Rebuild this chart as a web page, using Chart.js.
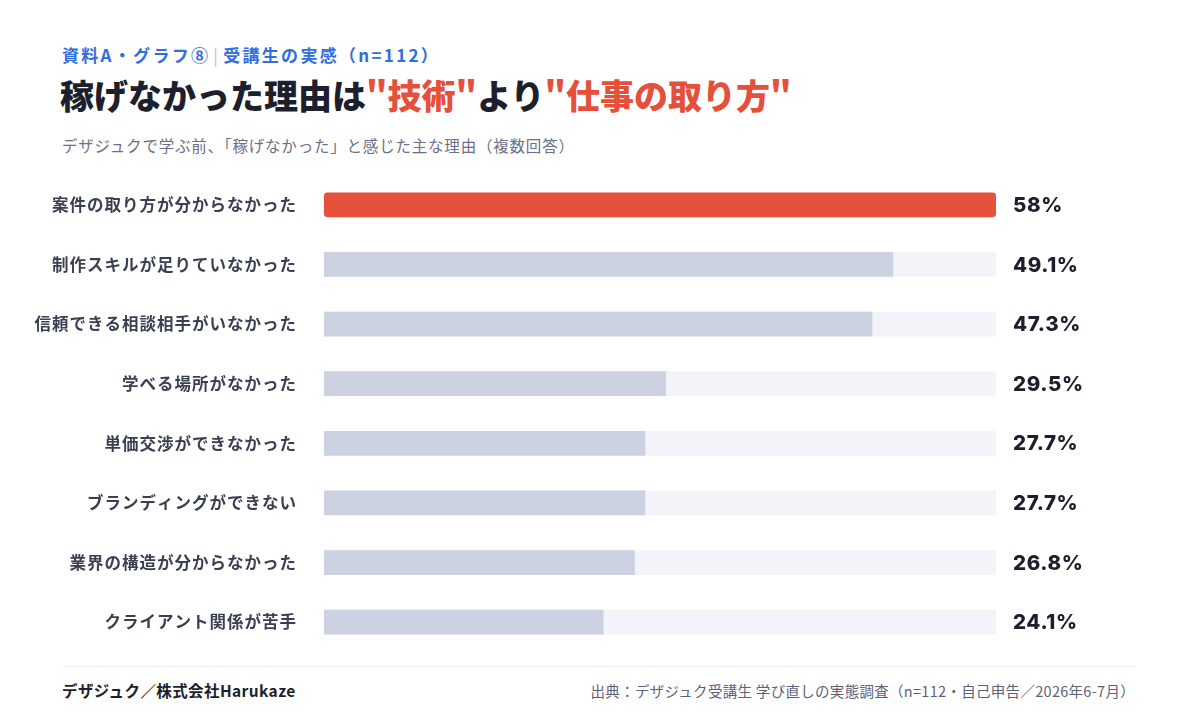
<!DOCTYPE html>
<html lang="ja">
<head>
<meta charset="utf-8">
<script src="https://cdn.jsdelivr.net/npm/chart.js@4/dist/chart.umd.min.js"></script>
<style>
  html, body { margin: 0; padding: 0; background: #fff; }
  body { width: 1200px; height: 720px; position: relative; overflow: hidden;
         font-family: "Noto Sans CJK JP", "Noto Sans", sans-serif; }
  .kicker { position: absolute; left: 62px; top: 42px; font-size: 17px; font-weight: 700; color: #2f6de0; letter-spacing: 2.3px; }
  .kicker .sep { color: #b9c0d4; font-weight: 400; margin: 0 3px; }
  .title { position: absolute; left: 60px; top: 70px; font-size: 34px; font-weight: 900; color: #1d1f2c; }
  .title .hl { color: #e5503a; }
  .sub { position: absolute; left: 62px; top: 134px; font-size: 15.5px; color: #6b7088; letter-spacing: 0.8px; }
  .chartbox { position: absolute; left: 0; top: 175px; width: 1200px; height: 477px; }
  .rule { position: absolute; left: 62px; top: 666px; width: 1073px; height: 1px; background: #eef0f4; }
  .foot-l { position: absolute; left: 62px; top: 679px; font-size: 15.5px; font-weight: 700; color: #1d1f2c; letter-spacing: 0.4px; }
  .foot-r { position: absolute; right: 65px; top: 680px; font-size: 14.5px; color: #5d6278; letter-spacing: 0.3px; }
</style>
</head>
<body>
<div class="kicker">資料A・グラフ⑧<span class="sep">|</span>受講生の実感（n=112）</div>
<div class="title">稼げなかった理由は<span class="hl">"技術"</span>より<span class="hl">"仕事の取り方"</span></div>
<div class="sub">デザジュクで学ぶ前、「稼げなかった」と感じた主な理由（複数回答）</div>
<div class="chartbox"><canvas id="reasonChart" width="1200" height="477"></canvas></div>
<div class="rule"></div>
<div class="foot-l">デザジュク／株式会社Harukaze</div>
<div class="foot-r">出典：デザジュク受講生 学び直しの実態調査（n=112・自己申告／2026年6-7月）</div>

<script>
const reasons = [
  '案件の取り方が分からなかった',
  '制作スキルが足りていなかった',
  '信頼できる相談相手がいなかった',
  '学べる場所がなかった',
  '単価交渉ができなかった',
  'ブランディングができない',
  '業界の構造が分からなかった',
  'クライアント関係が苦手'
];
const percents = [58, 49.1, 47.3, 29.5, 27.7, 27.7, 26.8, 24.1];
const percentLabels = ['58%', '49.1%', '47.3%', '29.5%', '27.7%', '27.7%', '26.8%', '24.1%'];
const scaleMax = 58;
const trackValues = reasons.map(() => scaleMax);

// category labels in the reference are spaced out a little
const labelSpacing = {
  id: 'labelSpacing',
  beforeDraw(chart) { chart.ctx.letterSpacing = '1px'; }
};

const valueLabels = {
  id: 'valueLabels',
  afterDatasetsDraw(chart) {
    const { ctx, chartArea } = chart;
    const meta = chart.getDatasetMeta(0);
    ctx.save();
    ctx.letterSpacing = '0.6px';
    ctx.font = '800 20.5px Inter, "Noto Sans CJK JP", sans-serif';
    ctx.fillStyle = '#1d1f2c';
    ctx.textBaseline = 'middle';
    ctx.textAlign = 'left';
    meta.data.forEach((bar, i) => {
      ctx.fillText(percentLabels[i], chartArea.right + 17, bar.y + 1);
    });
    ctx.restore();
  }
};

const ctx = document.getElementById('reasonChart').getContext('2d');
new Chart(ctx, {
  type: 'bar',
  data: {
    labels: reasons,
    datasets: [
      {
        label: '割合',
        data: percents,
        backgroundColor: percents.map((v, i) => i === 0 ? '#e5523b' : '#cdd2e3'),
        borderRadius: percents.map((v, i) => i === 0 ? 4 : 0),
        borderSkipped: false,
        barThickness: 24,
        grouped: false,
        order: 1
      },
      {
        label: 'track',
        data: trackValues,
        backgroundColor: '#f3f4f9',
        barThickness: 24,
        grouped: false,
        order: 2
      }
    ]
  },
  plugins: [labelSpacing, valueLabels],
  options: {
    indexAxis: 'y',
    responsive: false,
    animation: false,
    layout: { padding: { left: 0, right: 204, top: 0, bottom: 0 } },
    plugins: { legend: { display: false }, tooltip: { enabled: false } },
    scales: {
      x: {
        min: 0,
        max: scaleMax,
        display: false
      },
      y: {
        grid: { display: false, drawTicks: false },
        border: { display: false },
        afterFit(scale) {
          scale.width = 324;
          scale.paddingTop = 0;
          scale.paddingBottom = 0;
        },
        ticks: {
          padding: 27,
          color: '#3b3f52',
          font: { family: '"Noto Sans CJK JP", sans-serif', size: 16.5, weight: '700' }
        }
      }
    }
  }
});
</script>
</body>
</html>
